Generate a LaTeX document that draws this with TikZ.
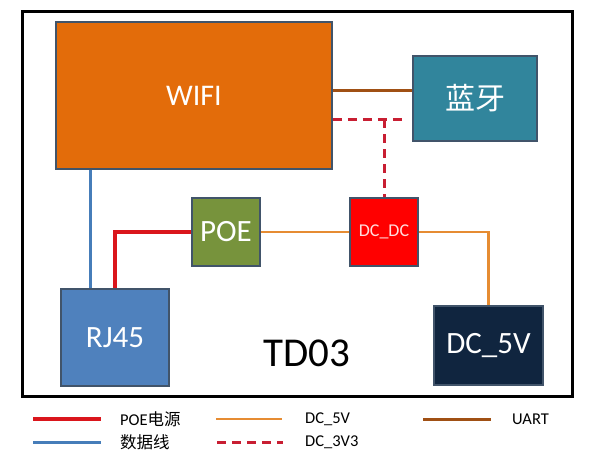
\documentclass[tikz,border=0pt]{standalone}
\usepackage{fontspec}
\setmainfont{Carlito}
\newfontfamily\cjk{Noto Sans CJK SC}
\usepackage{tikz}
\usetikzlibrary{calc}

\definecolor{boxline}{RGB}{65,84,106}
\definecolor{wifiorange}{RGB}{227,108,10}
\definecolor{btteal}{RGB}{49,133,156}
\definecolor{poegreen}{RGB}{119,147,60}
\definecolor{dcred}{RGB}{255,0,0}
\definecolor{rjblue}{RGB}{79,129,189}
\definecolor{dcnavy}{RGB}{16,37,63}
\definecolor{poered}{RGB}{218,22,28}
\definecolor{datablue}{RGB}{70,125,185}
\definecolor{dcorange}{RGB}{230,140,50}
\definecolor{uartbrown}{RGB}{160,80,20}
\definecolor{dashred}{RGB}{200,30,50}

\begin{document}
\begin{tikzpicture}[x=1pt,y=-1pt,
	block/.style={draw=boxline, line width=1.8pt, inner sep=0pt, text=white},
	poeline/.style={draw=poered, line width=3.5pt},
	dataline/.style={draw=datablue, line width=3pt},
	dcline/.style={draw=dcorange, line width=2.5pt},
	uartline/.style={draw=uartbrown, line width=3pt},
	dc3line/.style={draw=dashred, line width=3pt, dash pattern=on 9pt off 6pt},
	legtext/.style={anchor=west, inner sep=0pt, font=\fontsize{16.5}{16.5}\selectfont}]
	\useasboundingbox (0,0) rectangle (598,458);
	\draw[line width=3pt] (22,11) rectangle (572,396);

	% blocks
	\node[block, fill=wifiorange, minimum width=276pt, minimum height=147pt] (wifi) at (194,95.5) {\fontsize{30}{30}\selectfont WIFI};
	\node[block, fill=btteal, minimum width=124pt, minimum height=85pt] (bt) at (475,98.5) {\cjk\fontsize{30}{30}\selectfont 蓝牙};
	\node[block, fill=poegreen, minimum width=68pt, minimum height=68pt] (poe) at (226,232) {\fontsize{31}{31}\selectfont POE};
	\node[block, fill=dcred, minimum width=68pt, minimum height=68pt, text={rgb,255:red,255;green,222;blue,222}] (dcdc) at (384,232) {\fontsize{18}{18}\selectfont DC\_DC};
	\node[block, fill=rjblue, minimum width=108pt, minimum height=97pt] (rj45) at (115,337.5) {\fontsize{31}{31}\selectfont RJ45};
	\node[block, fill=dcnavy, minimum width=109pt, minimum height=79pt] (dc5v) at (488.5,345.5) {\fontsize{31}{31}\selectfont DC\_5V};
	\node (td03) at (306.5,353) {\fontsize{41}{41}\selectfont TD03};

	% connections
	\coordinate (tap) at (dcdc.north |- 0,119);
	\coordinate (dashend) at (406,119);
	\draw[uartline] (wifi.east |- 0,90) -- (bt.west |- 0,90);
	\draw[dc3line] (wifi.east |- tap) -- (dashend);
	\draw[dc3line] (tap) -- (dcdc.north);
	\draw[dataline] (wifi.south -| 90,0) -- (rj45.north -| 90,0);
	\draw[poeline] (poe.west) -| (rj45.north);
	\draw[dcline] (poe.east) -- (dcdc.west);
	\draw[dcline] (dcdc.east) -| (dc5v.north);

	% legend
	\draw[poeline] (33,419) -- (101,419);
	\draw[dataline] (33,442) -- (101,442);
	\draw[dcline] (216,419) -- (282,419);
	\draw[dc3line] (217,442) -- (283,442);
	\draw[uartline] (423,419) -- (491,419);
	\node[legtext] (lpoe) at (120,419) {POE\cjk 电源};
	\node[legtext] (ldata) at (120,442) {\cjk 数据线};
	\node[legtext] (ldc5) at (305,419) {DC\_5V};
	\node[legtext] (ldc3) at (305,442) {DC\_3V3};
	\node[legtext] (luart) at (512,419) {UART};
\end{tikzpicture}
\end{document}
